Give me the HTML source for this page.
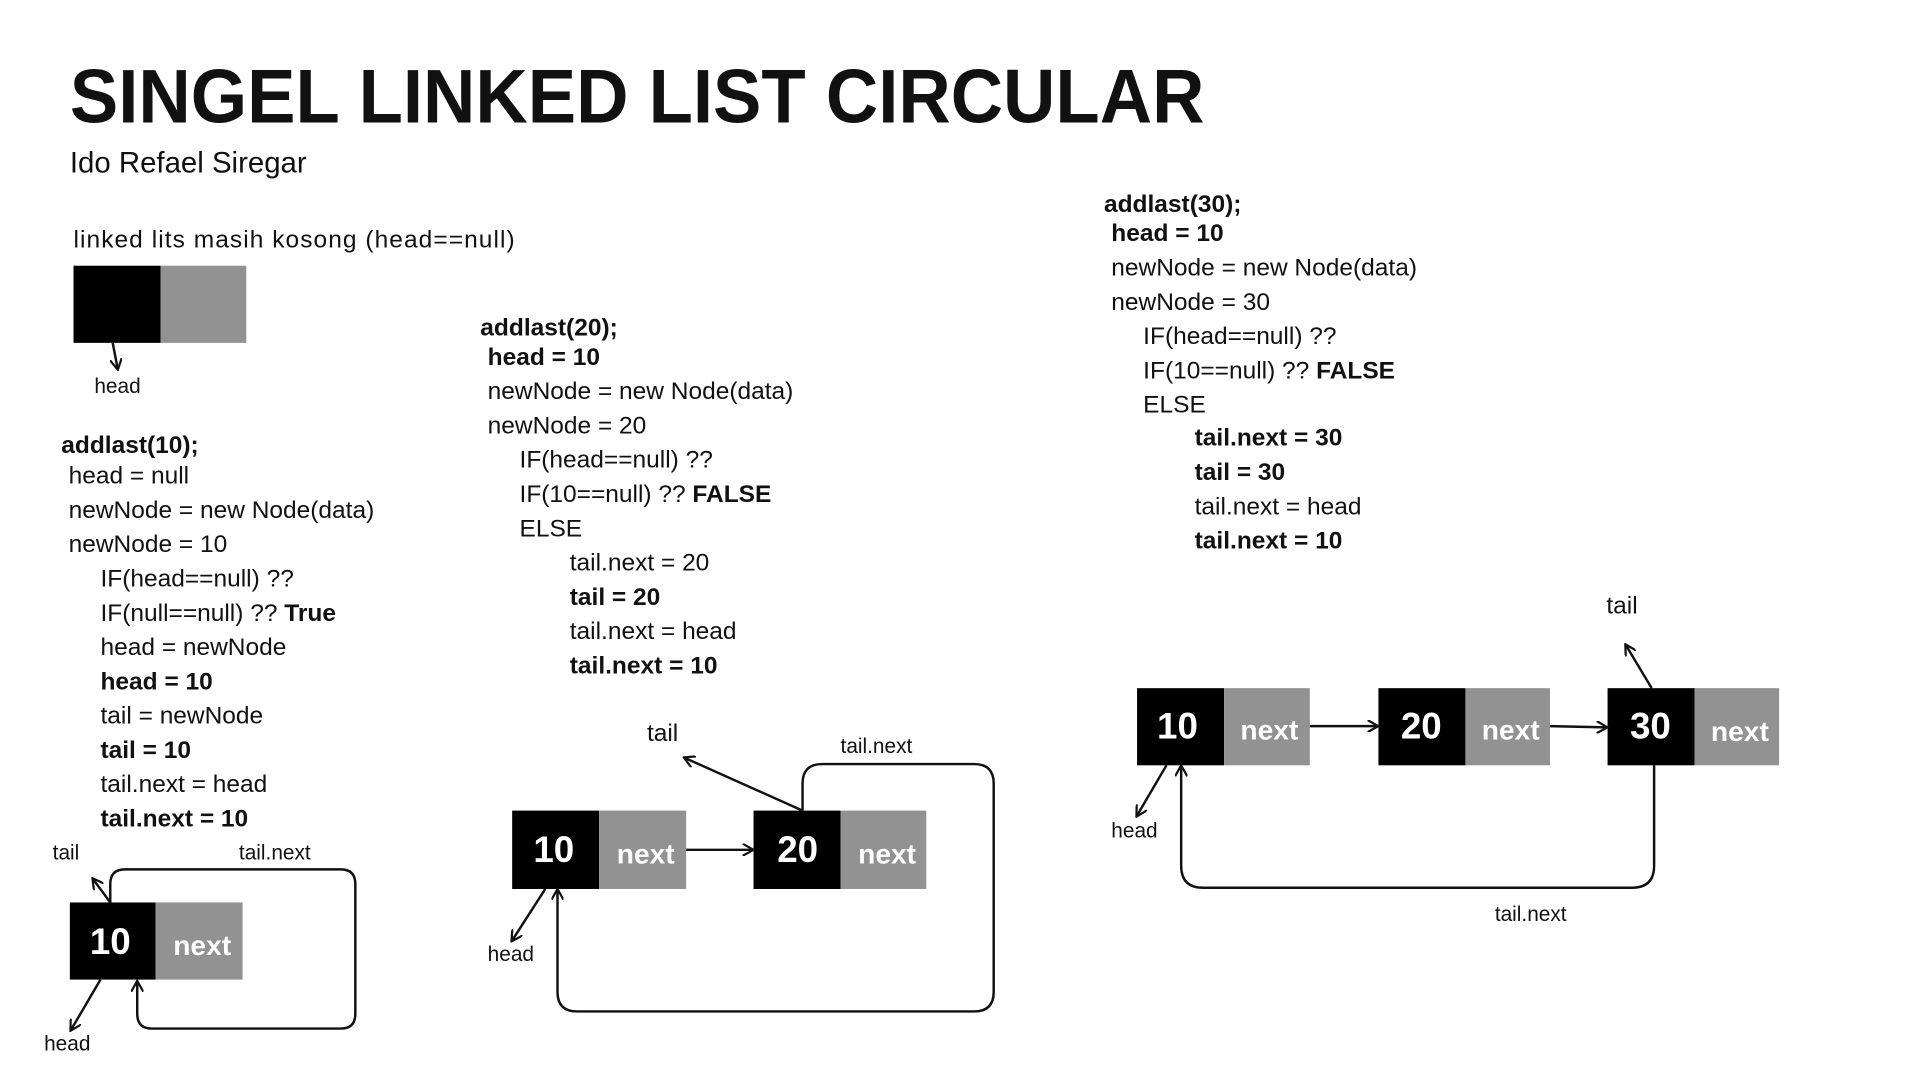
<!DOCTYPE html>
<html><head><meta charset="utf-8"><style>
html,body{margin:0;padding:0;background:#fff;}
svg{display:block;}
text{font-family:"Liberation Sans",sans-serif;fill:#111;}
.t{font-size:20px;}
.b{font-size:20px;font-weight:bold;}
.s{font-size:17px;}
.n{font-weight:bold;fill:#fff;}
</style></head><body>
<svg width="1920" height="1080" viewBox="0 0 1567 882" preserveAspectRatio="none" xmlns="http://www.w3.org/2000/svg">
<defs><marker id="a" markerWidth="10" markerHeight="10" refX="8" refY="5" orient="auto" markerUnits="userSpaceOnUse"><path d="M0,0 L9,5 L0,10" fill="none" stroke="#111" stroke-width="1.8"/></marker></defs>
<rect width="1567" height="882" fill="#fff"/>
<text x="57" y="100" style="font-size:62px;font-weight:bold" textLength="926" lengthAdjust="spacingAndGlyphs">SINGEL LINKED LIST CIRCULAR</text>
<text x="57" y="141" style="font-size:24px">Ido Refael Siregar</text>

<text x="60" y="202" class="t" textLength="360">linked lits masih kosong (head==null)</text>
<rect x="60" y="217" width="71" height="63" fill="#000"/><rect x="131" y="217" width="70" height="63" fill="#929292"/>
<line x1="92" y1="280" x2="96" y2="301" stroke="#111" stroke-width="2" marker-end="url(#a)"/>
<text x="77" y="321" class="s">head</text>

<g class="t">
<text x="50" y="370" class="b">addlast(10);</text>
<text x="56" y="395">head = null</text>
<text x="56" y="423">newNode = new Node(data)</text>
<text x="56" y="451">newNode = 10</text>
<text x="82" y="479">IF(head==null) ??</text>
<text x="82" y="507">IF(null==null) ?? <tspan font-weight="bold">True</tspan></text>
<text x="82" y="535">head = newNode</text>
<text x="82" y="563" font-weight="bold">head = 10</text>
<text x="82" y="591">tail =  newNode</text>
<text x="82" y="619" font-weight="bold">tail = 10</text>
<text x="82" y="647">tail.next = head</text>
<text x="82" y="675" font-weight="bold">tail.next = 10</text>
</g>
<rect x="57" y="737" width="70" height="63" fill="#000"/><rect x="127" y="737" width="71" height="63" fill="#929292"/>
<text x="90" y="779" class="n" font-size="30" text-anchor="middle">10</text>
<text x="165" y="780" class="n" font-size="23" text-anchor="middle">next</text>
<text x="43" y="702" class="s">tail</text>
<line x1="90" y1="737" x2="76" y2="718" stroke="#111" stroke-width="2" marker-end="url(#a)"/>
<text x="195" y="702" class="s">tail.next</text>
<path d="M90,737 L90,722 Q90,710 102,710 L278,710 Q290,710 290,722 L290,828 Q290,840 278,840 L124,840 Q112,840 112,828 L112,802" fill="none" stroke="#111" stroke-width="2" marker-end="url(#a)"/>
<line x1="82" y1="800" x2="58" y2="841" stroke="#111" stroke-width="2" marker-end="url(#a)"/>
<text x="36" y="858" class="s">head</text>

<g class="t">
<text x="392" y="274" class="b">addlast(20);</text>
<text x="398" y="298" font-weight="bold">head = 10</text>
<text x="398" y="326">newNode = new Node(data)</text>
<text x="398" y="354">newNode = 20</text>
<text x="424" y="382">IF(head==null) ??</text>
<text x="424" y="410">IF(10==null) ?? <tspan font-weight="bold">FALSE</tspan></text>
<text x="424" y="438">ELSE</text>
<text x="465" y="466">tail.next = 20</text>
<text x="465" y="494" font-weight="bold">tail = 20</text>
<text x="465" y="522">tail.next = head</text>
<text x="465" y="550" font-weight="bold">tail.next = 10</text>
</g>
<rect x="418" y="662" width="71" height="64" fill="#000"/><rect x="489" y="662" width="71" height="64" fill="#929292"/>
<rect x="615" y="662" width="71" height="64" fill="#000"/><rect x="686" y="662" width="70" height="64" fill="#929292"/>
<text x="452" y="704" class="n" font-size="30" text-anchor="middle">10</text>
<text x="527" y="705" class="n" font-size="23" text-anchor="middle">next</text>
<text x="651" y="704" class="n" font-size="30" text-anchor="middle">20</text>
<text x="724" y="705" class="n" font-size="23" text-anchor="middle">next</text>
<line x1="560" y1="694" x2="614" y2="694" stroke="#111" stroke-width="2" marker-end="url(#a)"/>
<text x="528" y="605" class="t">tail</text>
<line x1="655" y1="662" x2="559" y2="619" stroke="#111" stroke-width="2" marker-end="url(#a)"/>
<text x="686" y="615" class="s">tail.next</text>
<path d="M655,662 L655,640 Q655,624 671,624 L795,624 Q811,624 811,640 L811,810 Q811,826 795,826 L471,826 Q455,826 455,810 L455,727" fill="none" stroke="#111" stroke-width="2" marker-end="url(#a)"/>
<line x1="445" y1="726" x2="418" y2="768" stroke="#111" stroke-width="2" marker-end="url(#a)"/>
<text x="398" y="785" class="s">head</text>

<g class="t">
<text x="901" y="173" class="b">addlast(30);</text>
<text x="907" y="197" font-weight="bold">head = 10</text>
<text x="907" y="225">newNode = new Node(data)</text>
<text x="907" y="253">newNode = 30</text>
<text x="933" y="281">IF(head==null) ??</text>
<text x="933" y="309">IF(10==null) ?? <tspan font-weight="bold">FALSE</tspan></text>
<text x="933" y="337">ELSE</text>
<text x="975" y="364" font-weight="bold">tail.next = 30</text>
<text x="975" y="392" font-weight="bold">tail = 30</text>
<text x="975" y="420">tail.next = head</text>
<text x="975" y="448" font-weight="bold">tail.next = 10</text>
</g>
<rect x="928" y="562" width="71" height="63" fill="#000"/><rect x="999" y="562" width="70" height="63" fill="#929292"/>
<rect x="1125" y="562" width="71" height="63" fill="#000"/><rect x="1196" y="562" width="69" height="63" fill="#929292"/>
<rect x="1312" y="562" width="71" height="63" fill="#000"/><rect x="1383" y="562" width="69" height="63" fill="#929292"/>
<text x="961" y="603" class="n" font-size="30" text-anchor="middle">10</text>
<text x="1036" y="604" class="n" font-size="23" text-anchor="middle">next</text>
<text x="1160" y="603" class="n" font-size="30" text-anchor="middle">20</text>
<text x="1233" y="604" class="n" font-size="23" text-anchor="middle">next</text>
<text x="1347" y="603" class="n" font-size="30" text-anchor="middle">30</text>
<text x="1420" y="605" class="n" font-size="23" text-anchor="middle">next</text>
<line x1="1069" y1="593" x2="1124" y2="593" stroke="#111" stroke-width="2" marker-end="url(#a)"/>
<line x1="1265" y1="593" x2="1311" y2="594" stroke="#111" stroke-width="2" marker-end="url(#a)"/>
<text x="1311" y="501" class="t">tail</text>
<line x1="1348" y1="562" x2="1327" y2="527" stroke="#111" stroke-width="2" marker-end="url(#a)"/>
<line x1="952" y1="625" x2="928" y2="666" stroke="#111" stroke-width="2" marker-end="url(#a)"/>
<text x="907" y="684" class="s">head</text>
<path d="M1350,625 L1350,707 Q1350,725 1332,725 L982,725 Q964,725 964,707 L964,626" fill="none" stroke="#111" stroke-width="2" marker-end="url(#a)"/>
<text x="1220" y="752" class="s">tail.next</text>
</svg>
</body></html>
